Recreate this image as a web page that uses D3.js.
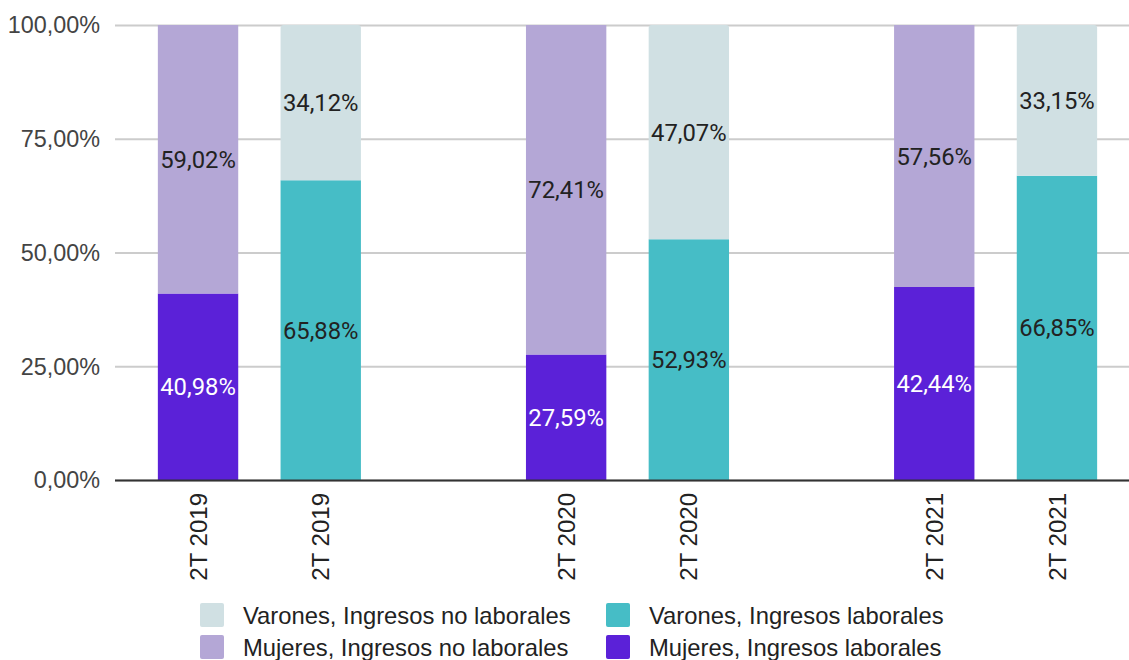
<!DOCTYPE html>
<html>
<head>
<meta charset="utf-8">
<script src="https://cdn.jsdelivr.net/npm/d3@7"></script>
<style>
  body { margin: 0; background: #fff; }
  svg { display: block; }
</style>
</head>
<body>
<div id="chart"></div>
<script>
// periods and bar categories (empty slots separate the groups)
var categories = ["2T 2019", "2T 2019 ", "gap1", "2T 2020", "2T 2020 ", "gap2", "2T 2021", "2T 2021 "];
var barSex = ["M", "V", null, "M", "V", null, "M", "V"];

// shares in percent
var laborales   = [40.98, 65.88, null, 27.59, 52.93, null, 42.44, 66.85];
var noLaborales = [59.02, 34.12, null, 72.41, 47.07, null, 57.56, 33.15];

var yTicks = [0, 25, 50, 75, 100];

var legendItems = [
  { name: "Varones, Ingresos no laborales", key: "V-no" },
  { name: "Varones, Ingresos laborales", key: "V-lab" },
  { name: "Mujeres, Ingresos no laborales", key: "M-no" },
  { name: "Mujeres, Ingresos laborales", key: "M-lab" }
];

var colors = {
  "V-no": "#d0e0e3",
  "V-lab": "#46bdc6",
  "M-no": "#b4a7d6",
  "M-lab": "#5b21d8"
};

var width = 1129, height = 660;
var svg = d3.select("#chart").append("svg")
  .attr("width", width)
  .attr("height", height);

var x = d3.scaleBand()
  .domain(categories)
  .range([137, 1118])
  .paddingInner(0.345)
  .paddingOuter(0.17);

var y = d3.scaleLinear()
  .domain([0, 100])
  .range([480, 25]);

var fmt = function(v) {
  return v.toFixed(2).replace(".", ",") + "%";
};

// gridlines
svg.append("g")
  .selectAll("line")
  .data(yTicks)
  .enter()
  .append("line")
  .attr("x1", 115)
  .attr("x2", width)
  .attr("y1", function(d) { return y(d) + 0.5; })
  .attr("y2", function(d) { return y(d) + 0.5; })
  .attr("stroke", "#cccccc")
  .attr("stroke-width", 2);

// y labels
svg.append("g")
  .selectAll("text")
  .data(yTicks)
  .enter()
  .append("text")
  .attr("x", 100)
  .attr("y", function(d) { return y(d); })
  .attr("dy", "0.36em")
  .attr("text-anchor", "end")
  .attr("font-family", "Liberation Sans, Arial, sans-serif")
  .attr("font-size", 23.4)
  .attr("fill", "#444")
  .text(function(d) { return fmt(d); });

// build stacked rows
var rows = [];
categories.forEach(function(c, i) {
  if (!barSex[i]) return;
  rows.push({ cat: c, key: barSex[i] + "-lab", y0: 0, y1: laborales[i], v: laborales[i] });
  rows.push({ cat: c, key: barSex[i] + "-no", y0: laborales[i], y1: laborales[i] + noLaborales[i], v: noLaborales[i] });
});

var bars = svg.append("g");
bars.selectAll("path")
  .data(rows)
  .enter()
  .append("path")
  .attr("fill", function(d) { return colors[d.key]; })
  .attr("d", function(d) {
    var x0 = x(d.cat), w = x.bandwidth();
    var top = y(Math.min(d.y1, 100)), bot = y(d.y0);
    var r = (d.key === "V-no") ? 3 : 0;
    return "M" + x0 + "," + bot +
      "V" + (top + r) +
      "Q" + x0 + "," + top + " " + (x0 + r) + "," + top +
      "H" + (x0 + w - r) +
      "Q" + (x0 + w) + "," + top + " " + (x0 + w) + "," + (top + r) +
      "V" + bot + "Z";
  });

// value labels
bars.selectAll("text")
  .data(rows)
  .enter()
  .append("text")
  .attr("x", function(d) { return x(d.cat) + x.bandwidth() / 2; })
  .attr("y", function(d) { return y((d.y0 + Math.min(d.y1, 100)) / 2); })
  .attr("dy", "0.36em")
  .attr("text-anchor", "middle")
  .attr("font-family", "Roboto, sans-serif")
  .attr("font-size", 23.8)
  .attr("fill", function(d) { return d.key === "M-lab" ? "#ffffff" : "#222222"; })
  .text(function(d) { return fmt(d.v); });

// baseline
svg.append("line")
  .attr("x1", 115)
  .attr("x2", width)
  .attr("y1", y(0) + 0.5)
  .attr("y2", y(0) + 0.5)
  .attr("stroke", "#333")
  .attr("stroke-width", 2);

// x labels, rotated
svg.append("g")
  .selectAll("text")
  .data(categories.filter(function(c, i) { return barSex[i]; }))
  .enter()
  .append("text")
  .attr("transform", function(d) {
    return "translate(" + (x(d) + x.bandwidth() / 2) + ",493) rotate(-90)";
  })
  .attr("dy", "0.36em")
  .attr("text-anchor", "end")
  .attr("font-family", "Liberation Sans, Arial, sans-serif")
  .attr("font-size", 24)
  .attr("fill", "#222")
  .text(function(d) { return d.trim(); });

// legend
var legend = svg.append("g");
var lg = legend.selectAll("g")
  .data(legendItems)
  .enter()
  .append("g")
  .attr("transform", function(d, i) {
    return "translate(" + (i % 2 === 0 ? 200 : 606) + "," + (i < 2 ? 603 : 635) + ")";
  });
lg.append("rect")
  .attr("width", 24)
  .attr("height", 24)
  .attr("rx", 2)
  .attr("fill", function(d) { return colors[d.key]; });
lg.append("text")
  .attr("x", 43)
  .attr("y", 12)
  .attr("dy", "0.36em")
  .attr("font-family", "Liberation Sans, Arial, sans-serif")
  .attr("font-size", 23.8)
  .attr("fill", "#222")
  .text(function(d) { return d.name; });
</script>
</body>
</html>
